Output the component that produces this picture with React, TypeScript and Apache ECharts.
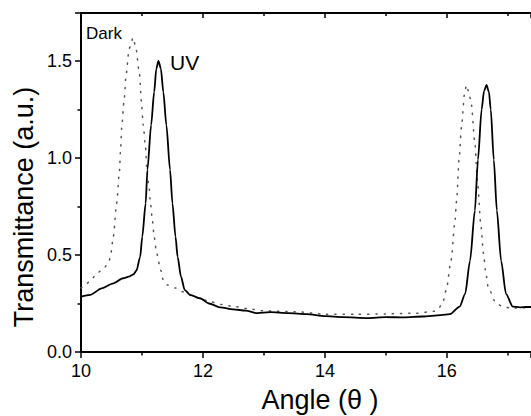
import React, { useEffect, useRef } from "react";
import * as echarts from "echarts";

const uvAngles = [
  10.0, 10.15, 10.34, 10.53, 10.69, 10.8, 10.86, 10.91, 10.97, 11.005, 11.06, 11.09, 11.15, 11.2, 11.235, 11.27,
  11.31, 11.35, 11.4, 11.46, 11.5, 11.55, 11.585, 11.64, 11.7, 11.79, 11.95, 12.1, 12.28, 12.5, 12.7, 12.89,
  13.1, 13.4, 13.7, 14.0, 14.3, 14.7, 15.0, 15.3, 15.6, 15.9, 16.05, 16.21, 16.3, 16.38, 16.46, 16.51, 16.57,
  16.61, 16.65, 16.69, 16.72, 16.77, 16.82, 16.89, 16.97, 17.08, 17.2, 17.3, 17.38,
];
const uvValues = [
  0.285, 0.294, 0.328, 0.354, 0.38, 0.39, 0.4, 0.42, 0.49, 0.594, 0.766, 0.94, 1.17, 1.34, 1.46, 1.5,
  1.46, 1.34, 1.17, 0.94, 0.766, 0.594, 0.49, 0.388, 0.32, 0.294, 0.277, 0.25, 0.23, 0.22, 0.213, 0.2,
  0.205, 0.2, 0.195, 0.185, 0.18, 0.175, 0.18, 0.178, 0.183, 0.19, 0.195, 0.234, 0.3, 0.47, 0.73, 0.99, 1.25,
  1.345, 1.376, 1.34, 1.25, 0.99, 0.73, 0.47, 0.3, 0.234, 0.23, 0.232, 0.232,
];

const darkAngles = [
  10.0, 10.05, 10.16, 10.26, 10.37, 10.46, 10.49, 10.53, 10.585, 10.63, 10.65, 10.67, 10.705, 10.74, 10.79,
  10.857, 10.9, 10.96, 10.99, 11.02, 11.06, 11.08, 11.115, 11.14, 11.17, 11.2, 11.24, 11.31, 11.35, 11.42,
  11.55, 11.68, 11.85, 12.0, 12.11, 12.3, 12.5, 12.8, 13.0, 13.5, 14.0, 14.5, 15.0, 15.5, 15.8, 15.85, 15.93,
  15.99, 16.07, 16.13, 16.16, 16.2, 16.24, 16.29, 16.32, 16.36, 16.4, 16.46, 16.5, 16.56, 16.6, 16.64, 16.68,
  16.81, 16.92, 17.06, 17.2, 17.38,
];
const darkValues = [
  0.33, 0.337, 0.37, 0.405, 0.43, 0.466, 0.509, 0.594, 0.766, 0.93, 1.05, 1.17, 1.29, 1.43, 1.565,
  1.62, 1.565, 1.43, 1.29, 1.17, 1.05, 0.93, 0.852, 0.766, 0.68, 0.594, 0.509, 0.42, 0.37, 0.345,
  0.33, 0.31, 0.285, 0.27, 0.26, 0.245, 0.235, 0.22, 0.212, 0.208, 0.195, 0.194, 0.196, 0.2, 0.21, 0.22, 0.25,
  0.32, 0.474, 0.663, 0.78, 0.99, 1.16, 1.33, 1.376, 1.34, 1.28, 1.076, 0.887, 0.646, 0.509, 0.405, 0.33,
  0.25, 0.234, 0.225, 0.228, 0.23,
];

const xTicks = { min: 10, max: 17.38, interval: 2 };
const yTicks = { min: 0, max: 1.747, interval: 0.5 };

const axisTitleX = "Angle (θ )";
const axisTitleY = "Transmittance (a.u.)";
const labelDark = "Dark";
const labelUV = "UV";

const FONT = "'Liberation Sans', Arial, sans-serif";

export default function App() {
  const ref = useRef<HTMLDivElement>(null);
  useEffect(() => {
    if (!ref.current) return;
    const chart = echarts.init(ref.current, null, { renderer: "svg" });
    const uvData = uvAngles.map((a, i) => [a, uvValues[i]]);
    const darkData = darkAngles.map((a, i) => [a, darkValues[i]]);
    const axisLine = { show: true, lineStyle: { color: "#000", width: 2 } };
    chart.setOption({
      animation: false,
      backgroundColor: "#fff",
      grid: { left: 81, right: 0, top: 13, bottom: 64 },
      xAxis: [
        {
          type: "value",
          min: xTicks.min,
          max: xTicks.max,
          interval: xTicks.interval,
          axisLine,
          axisTick: { show: true, length: 6, lineStyle: { color: "#000", width: 1.5 } },
          minorTick: { show: true, splitNumber: 2, length: 3.5, lineStyle: { color: "#000", width: 1.5 } },
          splitLine: { show: false },
          axisLabel: {
            color: "#000",
            fontSize: 18,
            fontFamily: FONT,
            margin: 10,
            showMaxLabel: false,
          },
        },
        {
          type: "value",
          position: "top",
          min: xTicks.min,
          max: xTicks.max,
          interval: xTicks.interval,
          axisLine,
          axisTick: { show: true, inside: true, length: 5, lineStyle: { color: "#000", width: 1.5 } },
          minorTick: { show: true, splitNumber: 2, length: 3, lineStyle: { color: "#000", width: 1.5 } },
          splitLine: { show: false },
          axisLabel: { show: false },
        },
      ],
      yAxis: {
        type: "value",
        min: yTicks.min,
        max: yTicks.max,
        interval: yTicks.interval,
        axisLine,
        axisTick: { show: true, length: 6, lineStyle: { color: "#000", width: 1.5 } },
        minorTick: { show: true, splitNumber: 2, length: 3.5, lineStyle: { color: "#000", width: 1.5 } },
        splitLine: { show: false },
        axisLabel: {
          color: "#000",
          fontSize: 18,
          fontFamily: FONT,
          margin: 9,
          showMaxLabel: false,
          formatter: (v: number) => v.toFixed(1),
        },
      },
      series: [
        {
          name: labelDark,
          type: "line",
          data: darkData,
          showSymbol: false,
          smooth: 0.25,
          smoothMonotone: "x",
          lineStyle: { color: "#555", width: 1.5, type: [1.2, 7], cap: "round" },
        },
        {
          name: labelUV,
          type: "line",
          data: uvData,
          showSymbol: false,
          smooth: 0.25,
          smoothMonotone: "x",
          lineStyle: { color: "#000", width: 1.8 },
        },
      ],
      graphic: [
        {
          type: "text",
          x: 24,
          y: 207,
          rotation: Math.PI / 2,
          style: {
            text: axisTitleY,
            fontSize: 27,
            fontFamily: FONT,
            fill: "#000",
            align: "center",
            verticalAlign: "middle",
          },
        },
        {
          type: "text",
          x: 320,
          y: 400,
          style: {
            text: axisTitleX,
            fontSize: 27,
            fontFamily: FONT,
            fill: "#000",
            align: "center",
            verticalAlign: "middle",
          },
        },
        {
          type: "text",
          x: 86,
          y: 33,
          style: {
            text: labelDark,
            fontSize: 17,
            fontFamily: FONT,
            fill: "#000",
            align: "left",
            verticalAlign: "middle",
          },
        },
        {
          type: "text",
          x: 170,
          y: 62,
          style: {
            text: labelUV,
            fontSize: 21,
            fontFamily: FONT,
            fill: "#000",
            align: "left",
            verticalAlign: "middle",
          },
        },
      ],
    });
    return () => chart.dispose();
  }, []);
  return (
    <div
      ref={ref}
      style={{ position: "absolute", left: 0, top: 0, width: 531, height: 416 }}
    />
  );
}
